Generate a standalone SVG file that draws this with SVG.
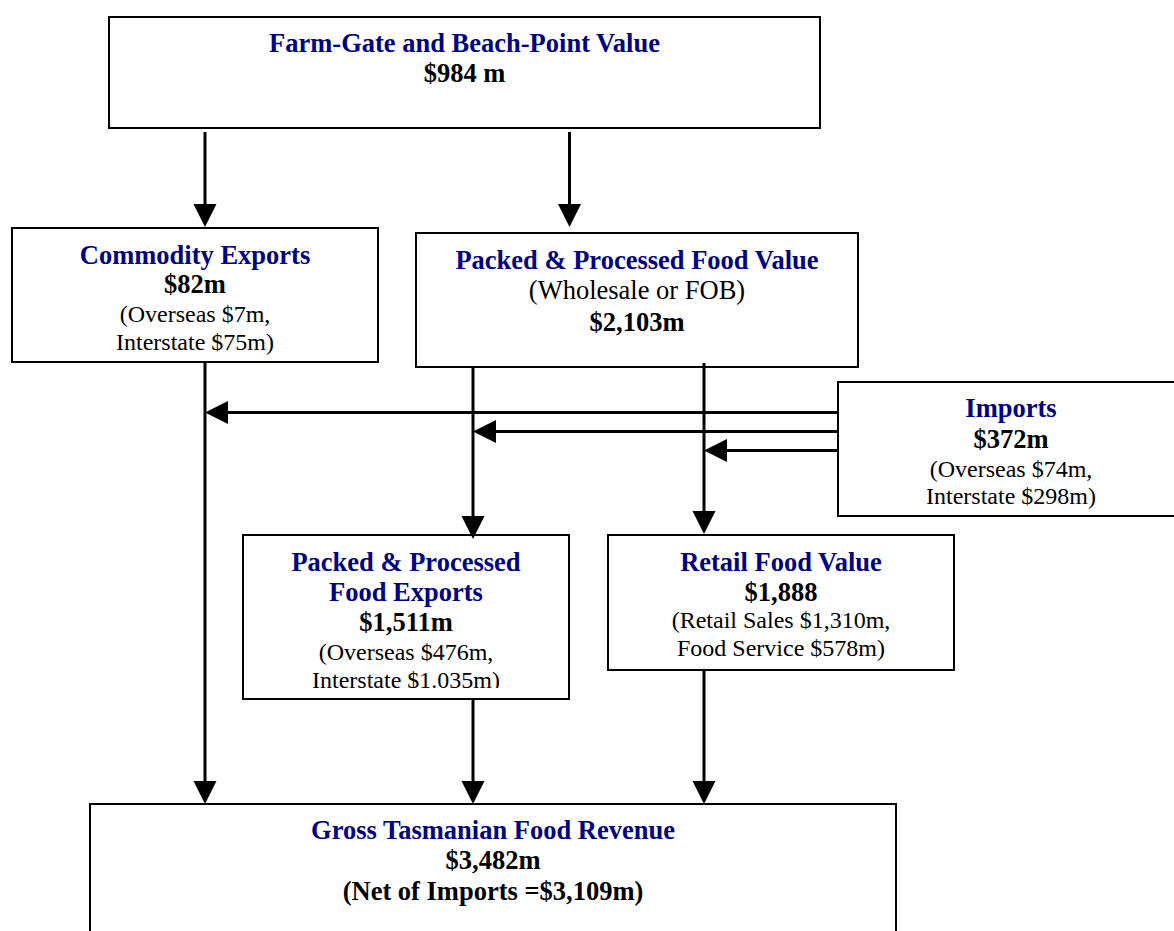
<svg xmlns="http://www.w3.org/2000/svg" width="1174" height="931" viewBox="0 0 1174 931">
<style>
.box{fill:#fff;stroke:#000;stroke-width:2}
.t{font-family:"Liberation Serif","Times New Roman",serif;font-weight:bold;font-size:26.5px;fill:#000080;text-anchor:middle}
.b{font-family:"Liberation Serif","Times New Roman",serif;font-weight:bold;font-size:26.5px;fill:#000;text-anchor:middle}
.r{font-family:"Liberation Serif","Times New Roman",serif;font-size:24px;fill:#000;text-anchor:middle}
.r2{font-family:"Liberation Serif","Times New Roman",serif;font-size:26.5px;fill:#000;text-anchor:middle}
.c{stroke:#000;stroke-width:3;fill:none}
.ah{fill:#000}
</style>
<defs>
<clipPath id="ppfeClip"><rect x="243" y="535" width="327" height="153"/></clipPath>
</defs>
<rect width="1174" height="931" fill="#fff"/>

<g id="farmgate">
<rect class="box" x="109" y="17" width="711" height="111"/>
<text class="t" x="464.5" y="52">Farm-Gate and Beach-Point Value</text>
<text class="b" x="464.5" y="82">$984 m</text>
</g>

<g id="commodity">
<rect class="box" x="12" y="228" width="366" height="134"/>
<text class="t" x="195" y="264">Commodity Exports</text>
<text class="b" x="195" y="293">$82m</text>
<text class="r" x="195" y="322">(Overseas $7m,</text>
<text class="r" x="195" y="350">Interstate $75m)</text>
</g>

<g id="ppfv">
<rect class="box" x="416" y="233" width="442" height="134"/>
<text class="t" x="637" y="269">Packed &amp; Processed Food Value</text>
<text class="r2" x="637" y="299">(Wholesale or FOB)</text>
<text class="b" x="637" y="331">$2,103m</text>
</g>

<g id="imports">
<rect class="box" x="838" y="382" width="350" height="134"/>
<text class="t" x="1011" y="417">Imports</text>
<text class="b" x="1011" y="448">$372m</text>
<text class="r" x="1011" y="477">(Overseas $74m,</text>
<text class="r" x="1011" y="504">Interstate $298m)</text>
</g>

<g id="ppfe">
<rect class="box" x="243" y="535" width="326" height="164"/>
<text class="t" x="406" y="571">Packed &amp; Processed</text>
<text class="t" x="406" y="601">Food Exports</text>
<text class="b" x="406" y="631">$1,511m</text>
<text class="r" x="406" y="660">(Overseas $476m,</text>
<text class="r" x="406" y="688" clip-path="url(#ppfeClip)">Interstate $1.035m)</text>
</g>

<g id="retail">
<rect class="box" x="608" y="535" width="346" height="135"/>
<text class="t" x="781" y="571">Retail Food Value</text>
<text class="b" x="781" y="601">$1,888</text>
<text class="r" x="781" y="628">(Retail Sales $1,310m,</text>
<text class="r" x="781" y="656">Food Service $578m)</text>
</g>

<g id="gross">
<rect class="box" x="90" y="804" width="806" height="140"/>
<text class="t" x="493" y="839">Gross Tasmanian Food Revenue</text>
<text class="b" x="493" y="869">$3,482m</text>
<text class="b" x="493" y="900">(Net of Imports =$3,109m)</text>
</g>

<g id="connectors">
<line class="c" x1="205" y1="132" x2="205" y2="206"/>
<polygon class="ah" points="193.5,204 216.5,204 205,227"/>
<line class="c" x1="569.5" y1="132" x2="569.5" y2="206"/>
<polygon class="ah" points="558,204 581,204 569.5,227"/>

<line class="c" x1="205" y1="362" x2="205" y2="784"/>
<polygon class="ah" points="193.5,781 216.5,781 205,804"/>

<line class="c" x1="473" y1="367" x2="473" y2="518"/>
<polygon class="ah" points="461.5,516 484.5,516 473,539"/>
<line class="c" x1="704" y1="363" x2="704" y2="513"/>
<polygon class="ah" points="692.5,511 715.5,511 704,534"/>

<line class="c" x1="838" y1="412.5" x2="225" y2="412.5"/>
<polygon class="ah" points="228,401 228,424 205,412.5"/>
<line class="c" x1="838" y1="431.5" x2="493" y2="431.5"/>
<polygon class="ah" points="496,420 496,443 473,431.5"/>
<line class="c" x1="838" y1="450.5" x2="724" y2="450.5"/>
<polygon class="ah" points="727,439 727,462 704,450.5"/>

<line class="c" x1="473" y1="699" x2="473" y2="784"/>
<polygon class="ah" points="461.5,781 484.5,781 473,804"/>
<line class="c" x1="704" y1="670" x2="704" y2="784"/>
<polygon class="ah" points="692.5,781 715.5,781 704,804"/>
</g>
</svg>
